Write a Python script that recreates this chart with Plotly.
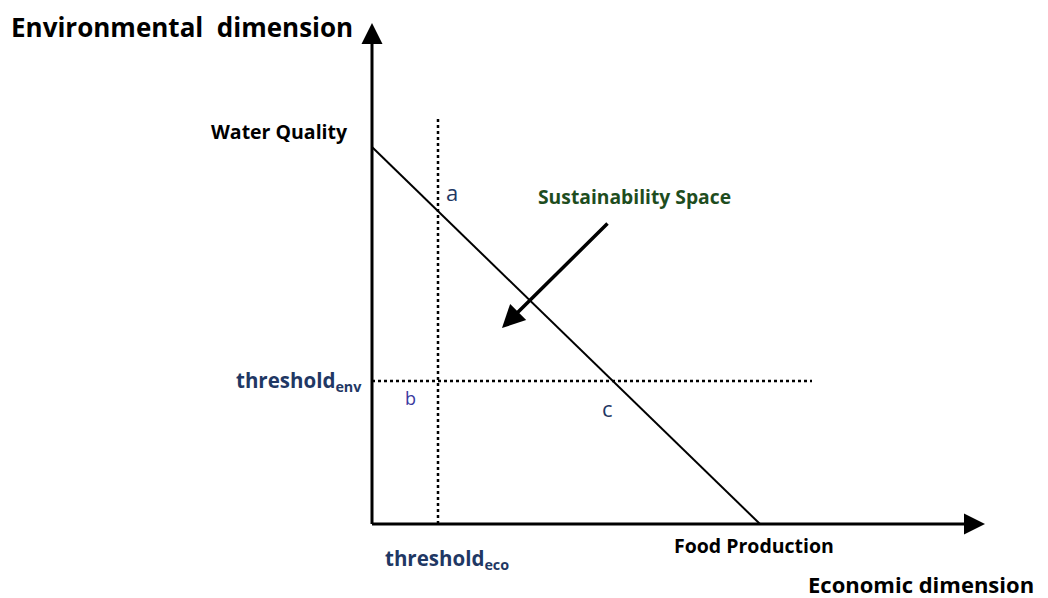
import plotly.graph_objects as go

# Conceptual coordinates (origin at axes intersection)
frontier_x = [0, 388]          # trade-off line: Water Quality vs Food Production
frontier_y = [377, 0]
threshold_eco = 66
threshold_env = 143
vline_top = 407
hline_end = 440
x_axis_end = 613
y_axis_end = 501
sust_arrow_start = (237, 302)
sust_arrow_tip = (130, 196)

FONT = "Open Sans"
NAVY = "#1f3864"
GREEN = "#1e4d1e"

fig = go.Figure()

fig.add_trace(go.Scatter(x=frontier_x, y=frontier_y, mode="lines",
                         line=dict(color="black", width=2), hoverinfo="skip"))
fig.add_trace(go.Scatter(x=[threshold_eco, threshold_eco], y=[0, vline_top], mode="lines",
                         line=dict(color="black", width=2.5, dash="dot"), hoverinfo="skip"))
fig.add_trace(go.Scatter(x=[0, hline_end], y=[threshold_env, threshold_env], mode="lines",
                         line=dict(color="black", width=2.5, dash="dot"), hoverinfo="skip"))

ann = []
def arrow(x0, y0, x1, y1, w, size):
    ann.append(dict(x=x1, y=y1, ax=x0, ay=y0, xref="x", yref="y", axref="x", ayref="y",
                    showarrow=True, arrowhead=2, arrowsize=size, arrowwidth=w,
                    arrowcolor="black", text=""))

arrow(-1.5, 0, x_axis_end, 0, 3, 1.4)
arrow(0, -1.5, 0, y_axis_end, 3, 1.4)
arrow(sust_arrow_start[0], sust_arrow_start[1], sust_arrow_tip[0], sust_arrow_tip[1], 3.5, 1.3)

def txt(x, y, s, size, color="black", bold=True, xanchor="center", yanchor="middle"):
    t = f"<b>{s}</b>" if bold else s
    ann.append(dict(x=x, y=y, xref="x", yref="y", text=t, showarrow=False,
                    font=dict(family=FONT, size=size, color=color),
                    xanchor=xanchor, yanchor=yanchor))

txt(-17, 497, "Environmental  dimension", 26, xanchor="right")
txt(-22, 393, "Water Quality", 19.5, xanchor="right")
txt(-8, 143, "threshold<sub>env</sub>", 20.5, color=NAVY, xanchor="right")
txt(11, -35, "threshold<sub>eco</sub>", 20.5, color=NAVY, xanchor="left")
txt(300, -21, "Food Production", 19.5, xanchor="left")
txt(664, -60, "Economic dimension", 22, xanchor="right")
txt(262, 328, "Sustainability Space", 19.3, color=GREEN)
txt(80, 332, "a", 22, color=NAVY, bold=False)
txt(38, 126, "b", 18, color="#3a3aa0", bold=False)
txt(235, 116, "c", 22, color=NAVY, bold=False)

# page body has an 8px default margin: offset ranges so that the origin lands at (372, 524)
fig.update_layout(
    width=1048, height=598,
    margin=dict(l=0, r=0, t=0, b=0),
    paper_bgcolor="white", plot_bgcolor="white",
    showlegend=False,
    xaxis=dict(range=[-364, 684], visible=False, fixedrange=True),
    yaxis=dict(range=[-82, 516], visible=False, fixedrange=True),
    annotations=ann,
)

fig.write_html("out.html")
